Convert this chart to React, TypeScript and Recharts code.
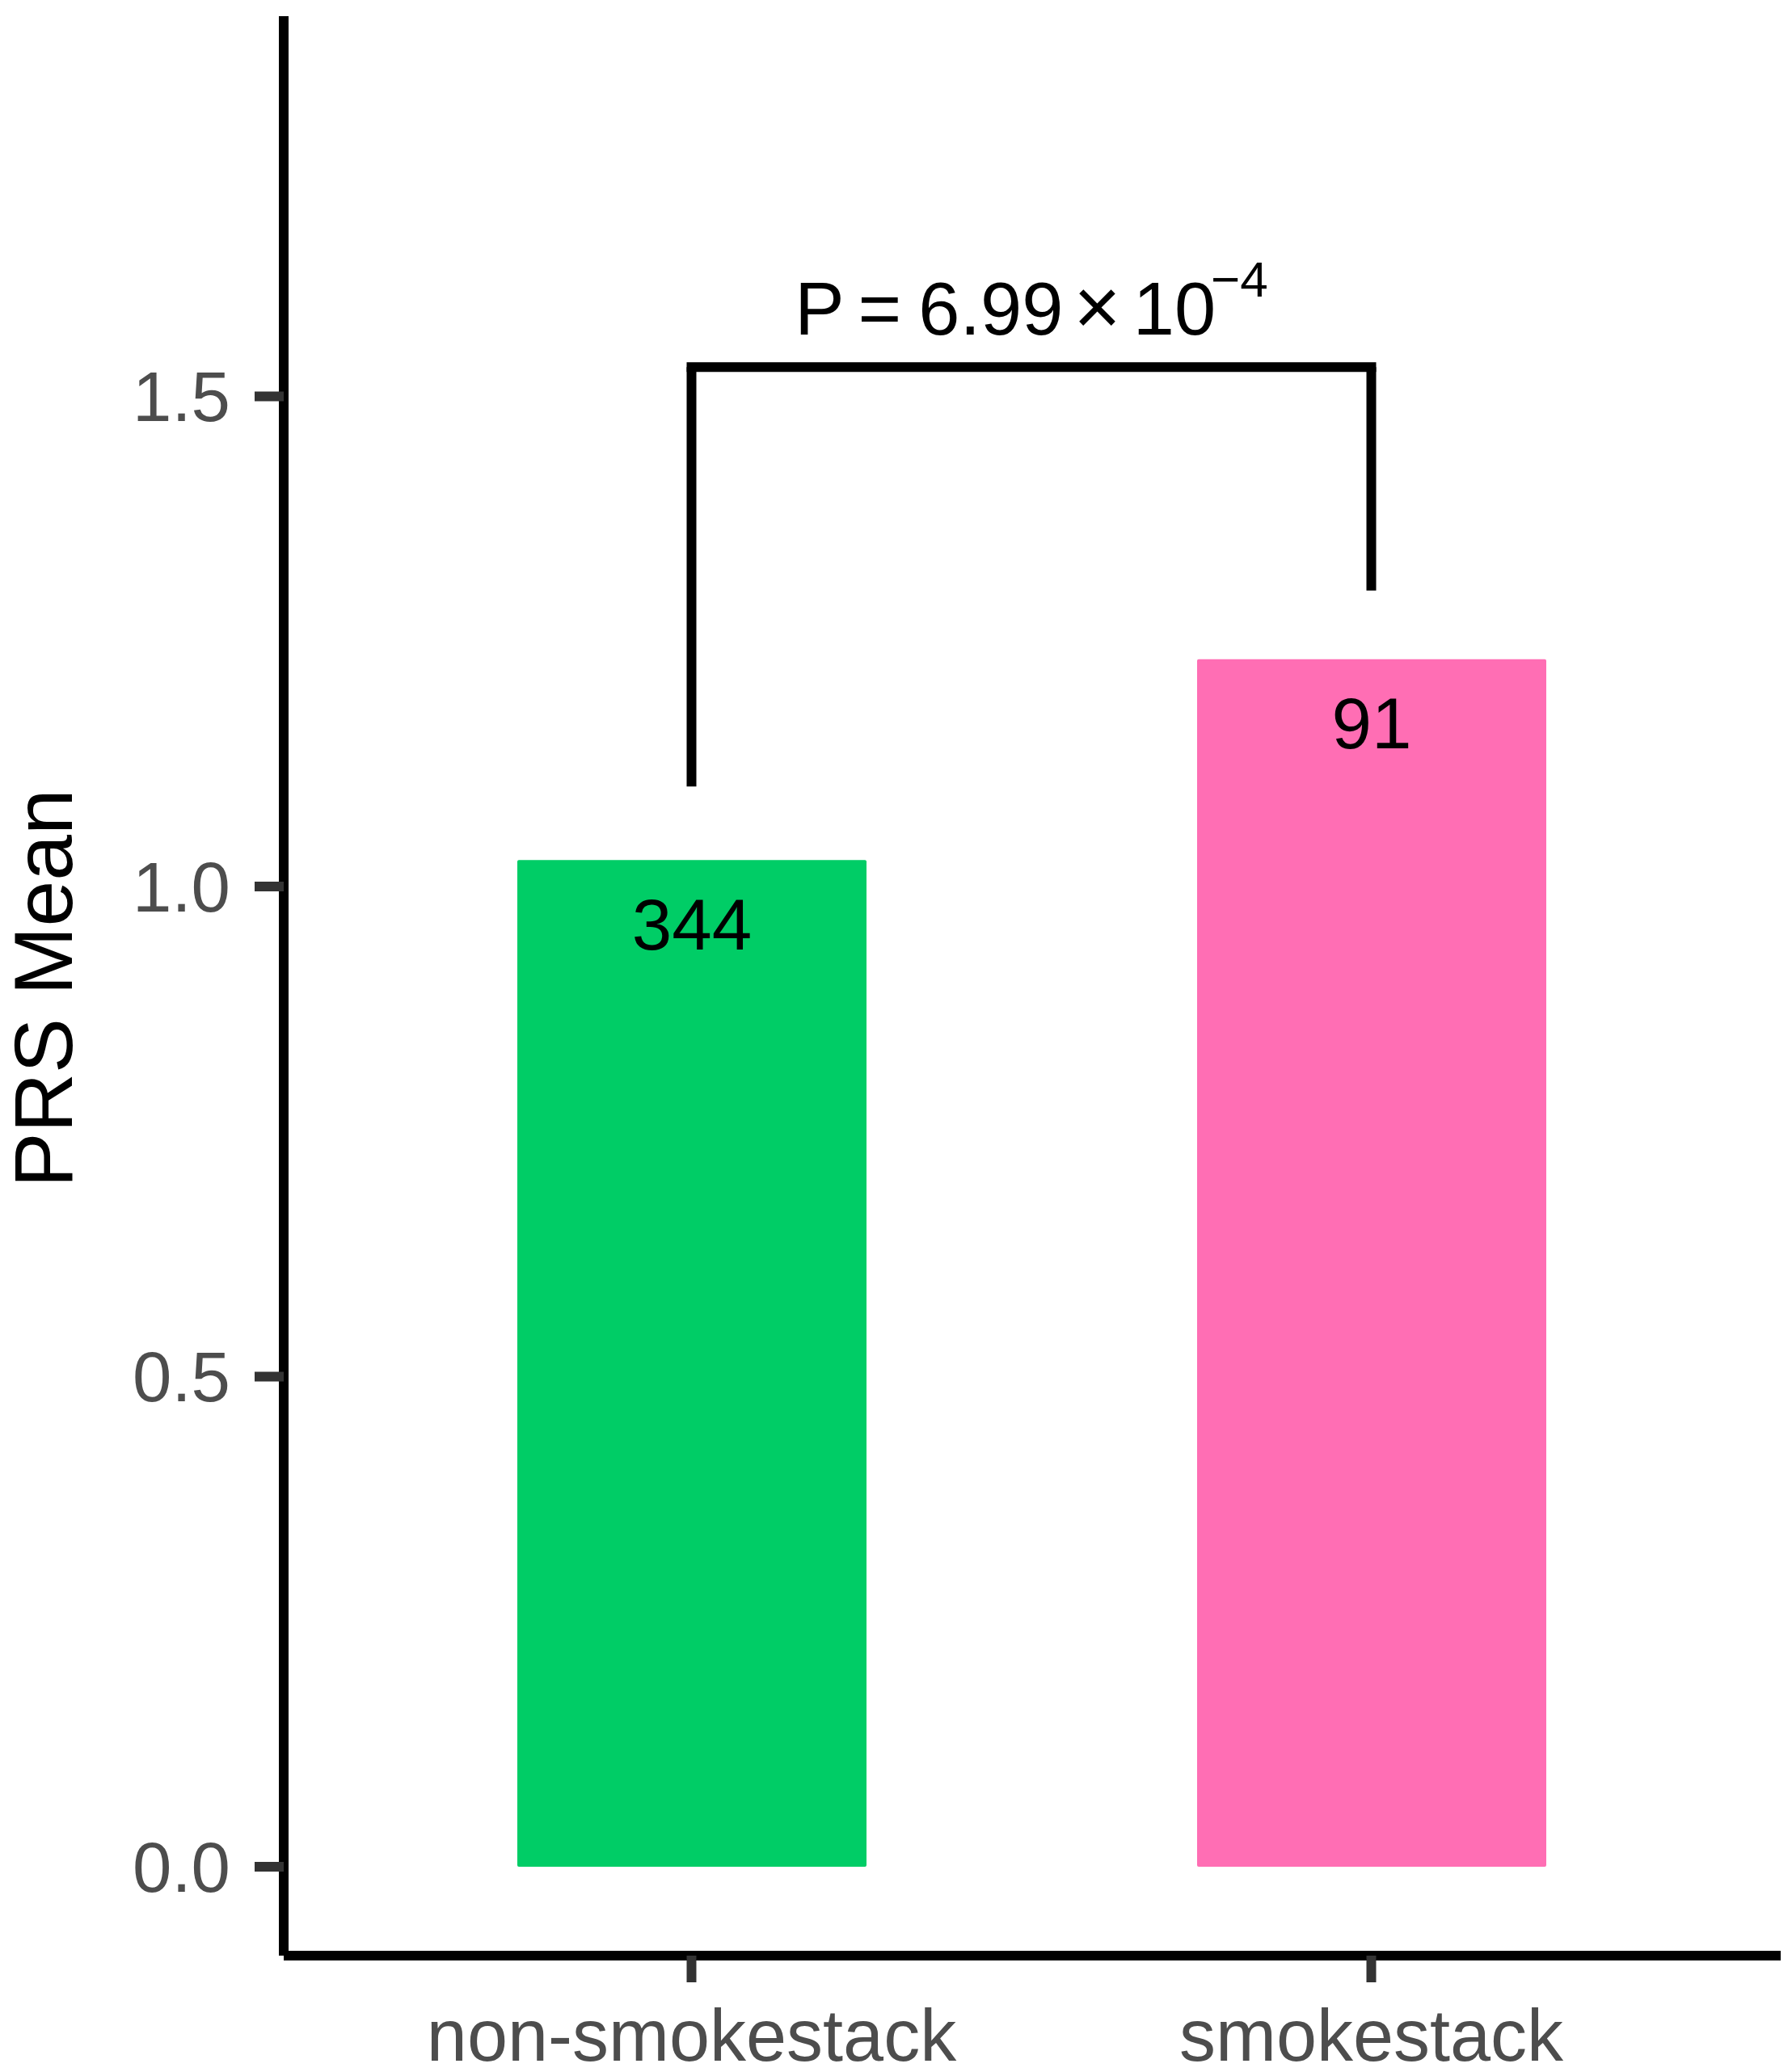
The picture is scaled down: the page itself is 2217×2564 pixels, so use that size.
import React from 'react';
import { BarChart, Bar, XAxis, YAxis, Cell, LabelList, ReferenceLine } from 'recharts';

const groups = ['non-smokestack', 'smokestack'];
const prsMean = [1.027, 1.232];
const sampleSizes = [344, 91];
const barColors = ['#00CD66', '#FF6EB4'];
const yTicks = [0, 0.5, 1.0, 1.5];
const yDomain = [-0.0907, 1.888];
const bracketLeftBottom = 1.102;
const bracketRightBottom = 1.302;
const bracketTop = 1.53;
const pMantissa = '6.99';
const pExponent = '\u22124';
const yTitle = 'PRS Mean';

const data = groups.map((g, i) => ({ group: g, mean: prsMean[i], n: sampleSizes[i] }));

const FONT = '"Liberation Sans", Arial, Helvetica, sans-serif';

const YTitle = (props: any) => {
  const vb = props.viewBox || {};
  const cx = (vb.x || 0) + 89;
  const cy = (vb.y || 0) + (vb.height || 0) / 2 + 3;
  return (
    <text
      x={cx}
      y={cy}
      transform={`rotate(-90, ${cx}, ${cy})`}
      textAnchor="middle"
      fontSize={102}
      fontFamily={FONT}
      fill="#000"
    >
      {yTitle}
    </text>
  );
};

const PLabel = (props: any) => {
  const vb = props.viewBox || {};
  const cx = (vb.x || 0) + (vb.width || 0) / 2;
  const y = (vb.y || 0) - 40;
  return (
    <text x={cx} y={y} textAnchor="middle" fontSize={92} fontFamily={FONT} fill="#000">
      <tspan>P</tspan>
      <tspan dx={17}>=</tspan>
      <tspan dx={21}>{pMantissa}</tspan>
      <tspan dx={13} fontSize={100}>{'\u00D7'}</tspan>
      <tspan dx={15}>10</tspan>
      <tspan dx={-6} dy={-47} fontSize={62}>{pExponent}</tspan>
    </text>
  );
};

export default function App() {
  return (
    <div style={{ position: 'absolute', left: 0, top: 0, width: 2217, height: 2564, background: '#fff' }}>
      <BarChart
        width={2217}
        height={2564}
        data={data}
        margin={{ top: 20, right: 14, bottom: 0, left: 0 }}
      >
        <XAxis
          dataKey="group"
          type="category"
          interval={0}
          padding={{ left: 84, right: 86 }}
          height={144}
          axisLine={{ stroke: '#000', strokeWidth: 12 }}
          tickLine={{ stroke: '#333', strokeWidth: 12 }}
          tickSize={33}
          tickMargin={33}
          tick={{ fill: '#4D4D4D', fontSize: 90, fontFamily: FONT }}
        />
        <YAxis
          type="number"
          domain={yDomain}
          allowDataOverflow
          ticks={yTicks}
          interval={0}
          width={351}
          axisLine={{ stroke: '#000', strokeWidth: 12 }}
          tickLine={{ stroke: '#333', strokeWidth: 12 }}
          tickSize={36}
          tickMargin={30}
          tick={{ fill: '#4D4D4D', fontSize: 87, fontFamily: FONT }}
          tickFormatter={(v: number) => v.toFixed(1)}
          label={YTitle}
        />
        <Bar dataKey="mean" barSize={432} radius={2} isAnimationActive={false}>
          {data.map((d, i) => (
            <Cell key={d.group} fill={barColors[i]} />
          ))}
          <LabelList
            dataKey="n"
            position="insideTop"
            offset={47}
            fill="#000"
            fontSize={89}
            fontFamily={FONT}
          />
        </Bar>
        <ReferenceLine
          segment={[
            { x: groups[0], y: bracketLeftBottom },
            { x: groups[0], y: bracketTop },
          ]}
          stroke="#000"
          strokeWidth={12}
          ifOverflow="visible"
        />
        <ReferenceLine
          segment={[
            { x: groups[1], y: bracketRightBottom },
            { x: groups[1], y: bracketTop },
          ]}
          stroke="#000"
          strokeWidth={12}
          ifOverflow="visible"
        />
        <ReferenceLine
          segment={[
            { x: groups[0], y: bracketTop },
            { x: groups[1], y: bracketTop },
          ]}
          stroke="#000"
          strokeWidth={12}
          strokeLinecap="square"
          ifOverflow="visible"
          label={PLabel}
        />
      </BarChart>
    </div>
  );
}
